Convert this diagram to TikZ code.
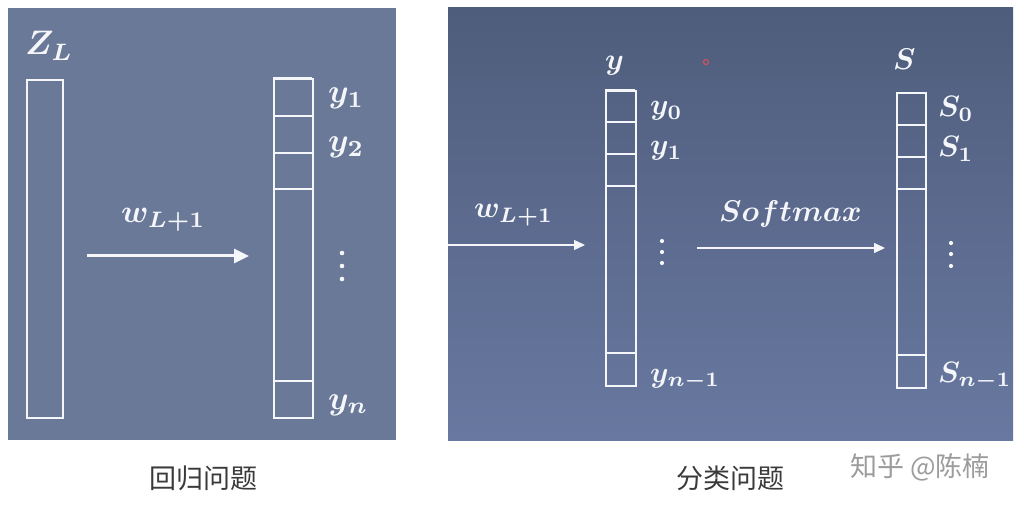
\documentclass[tikz,border=0pt]{standalone}
\usepackage{graphicx}
\usepackage{fontspec}
\newfontfamily\cjk{Noto Sans CJK SC}
\usetikzlibrary{arrows.meta}
\definecolor{leftbg}{HTML}{6A7997}
\definecolor{rtop}{HTML}{4F5D7C}
\definecolor{rbot}{HTML}{6878A0}
\definecolor{ink}{HTML}{F4F6FA}
\definecolor{wm}{HTML}{9C9C9C}
\definecolor{capc}{HTML}{3A3A3A}
\newcommand{\mth}[2]{\scalebox{#1}{\boldmath$#2$}}
\tikzset{
  bar/.style={draw=ink, line width=1.6pt},
  sep/.style={draw=ink, line width=1.6pt},
  septhick/.style={draw=ink, line width=2.6pt},
  lab/.style={text=ink, inner sep=0pt, anchor=base west},
  bigarrow/.style={draw=ink, line width=3pt, -{Triangle[length=15pt,width=14pt]}},
  thinarrow/.style={draw=ink, line width=1.2pt, -{Triangle[length=11pt,width=10pt]}},
  dotm/.style={fill=ink, draw=none},
  caption/.style={text=capc, font=\cjk\fontsize{27}{30}\selectfont, inner sep=0pt},
}
\begin{document}
\begin{tikzpicture}[x=1pt,y=-1pt]
\useasboundingbox (0,0) rectangle (1024,510);
\fill[white] (0,0) rectangle (1024,510);
% panels
\fill[leftbg] (8,8) rectangle (396,440);
\shade[top color=rtop, bottom color=rbot] (448,8) rectangle (1013,440);

% ---------- left panel ----------
\node[lab] (zl) at (25,55) {\mth{3.4}{Z_L}};
\node[bar, minimum width=36pt, minimum height=338pt, inner sep=0pt, anchor=north west] (zbar) at (26,79) {};
\node[bar, minimum width=39pt, minimum height=339pt, inner sep=0pt, anchor=north west] (ybarL) at (273,78) {};
\draw[septhick] (273,78) -- (312,78);
\draw[sep] (273,116) -- (312,116);
\draw[septhick] (273,153) -- (312,153);
\draw[sep] (273,189) -- (312,189);
\draw[sep] (273,381) -- (312,381);
\node[lab] (ly1) at (328,103) {\mth{3.3}{y_1}};
\node[lab] (ly2) at (328,152) {\mth{3.3}{y_2}};
\node[lab] (lyn) at (328,409) {\mth{3.3}{y_n}};
\fill[dotm] (342,253) circle (2.3) (342,266) circle (2.3) (342,279) circle (2.3);
\coordinate (la1) at (87,256);
\coordinate (la2) at (249,256);
\draw[bigarrow] (la1) -- (la2);
\node[lab] (lw) at (121,223) {\mth{3.2}{w_{L+1}}};

% ---------- right panel ----------
\node[lab] (ry) at (605,70) {\mth{3.0}{y}};
\node[bar, minimum width=30pt, minimum height=295pt, inner sep=0pt, anchor=north west] (ybarR) at (605,90) {};
\draw[septhick] (605,90) -- (635,90);
\draw[sep] (605,122) -- (635,122);
\draw[sep] (605,154) -- (635,154);
\draw[sep] (605,186) -- (635,186);
\draw[sep] (605,353) -- (635,353);
\node[lab] (ry0) at (650,115) {\mth{2.95}{y_0}};
\node[lab] (ry1) at (650,155) {\mth{2.95}{y_1}};
\node[lab] (ryn) at (650,382) {\mth{2.95}{y_{n-1}}};
\fill[dotm] (662,241) circle (2.1) (662,252) circle (2.1) (662,263) circle (2.1);

\node[lab] (rs) at (893,70) {\mth{3.0}{S}};
\node[bar, minimum width=29pt, minimum height=295pt, inner sep=0pt, anchor=north west] (sbar) at (896,92) {};
\draw[sep] (896,125) -- (925,125);
\draw[septhick] (896,157) -- (925,157);
\draw[sep] (896,189) -- (925,189);
\draw[sep] (896,355) -- (925,355);
\node[lab] (rs0) at (938,117) {\mth{2.95}{S_0}};
\node[lab] (rs1) at (938,157) {\mth{2.95}{S_1}};
\node[lab] (rsn) at (938,382) {\mth{2.95}{S_{n-1}}};
\fill[dotm] (951,243) circle (2.1) (951,254) circle (2.1) (951,266) circle (2.1);

\coordinate (ra1) at (448,245);
\coordinate (ra2) at (585,245);
\draw[thinarrow] (ra1) -- (ra2);
\node[lab] (rw) at (474,218) {\mth{3.0}{w_{L+1}}};
\coordinate (rb1) at (697,248);
\coordinate (rb2) at (885,248);
\draw[thinarrow] (rb1) -- (rb2);
\node[lab] (smx) at (719,222) {\mth{3.0}{Softmax}};
\draw[red!70!white, line width=0.8pt] (706,62) circle (2.5);

% ---------- captions ----------
\node[caption] (c1) at (203,478) {回归问题};
\node[caption] (c2) at (730,478) {分类问题};
\node[caption, text=wm] (wmk) at (920,467) {知乎 @陈楠};
\end{tikzpicture}
\end{document}
